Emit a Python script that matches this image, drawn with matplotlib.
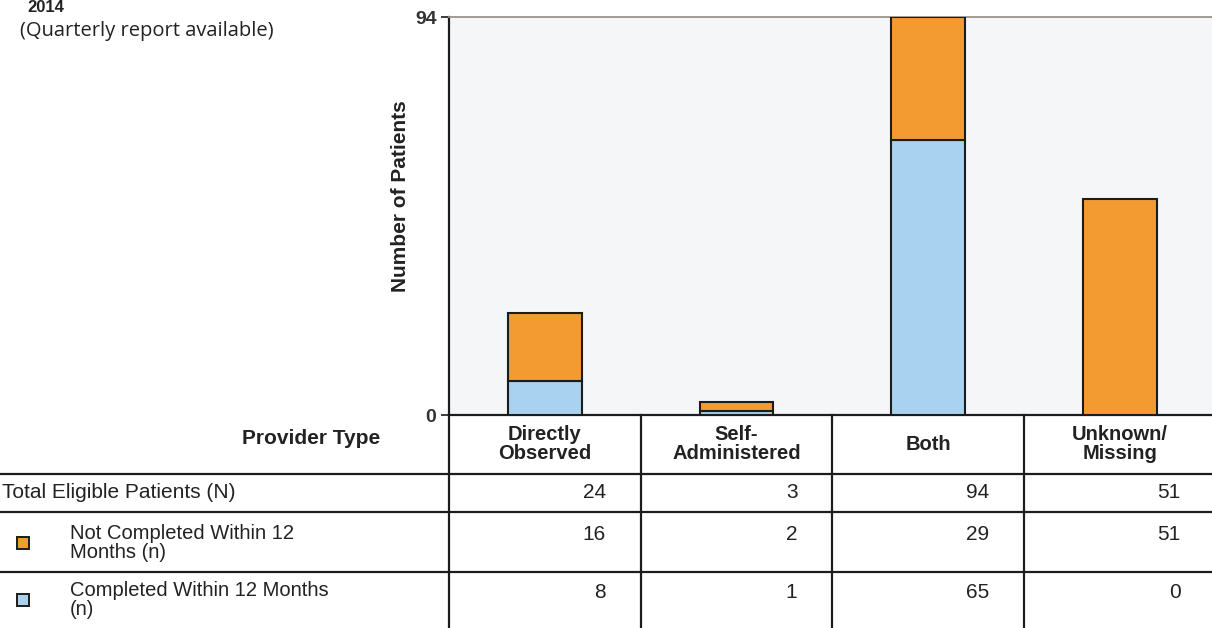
import matplotlib.pyplot as plt
from matplotlib.patches import Rectangle

categories = ["Directly\nObserved", "Self-\nAdministered", "Both", "Unknown/\nMissing"]
not_completed = [16, 2, 29, 51]
completed = [8, 1, 65, 0]
total = [24, 3, 94, 51]
row_labels = [
    "Total Eligible Patients (N)",
    "Not Completed Within 12\nMonths (n)",
    "Completed Within 12 Months\n(n)",
]
y_ticks = [0, 94]

ORANGE = "#f39b30"
BLUE = "#a9d1f0"
DARK = "#1c1c1c"
W, H = 1212, 628

plt.rcParams["font.family"] = ["Liberation Sans", "DejaVu Sans"]
fig = plt.figure(figsize=(W / 100, H / 100), dpi=100)

# layout in pixels
x0 = 449
col_w = 191.7
ax_top = 17
ax_bot = 415
row_lines = [474, 512, 572]
row_mid = [492, 543, 600]


def fx(px):
    return px / W


def fy(py):
    return 1 - py / H


ax = fig.add_axes([fx(x0), fy(ax_bot), 4 * col_w / W, (ax_bot - ax_top) / H])
ax.set_facecolor("#f5f6f7")
xs = list(range(len(categories)))
ax.bar(xs, completed, width=0.385, color=BLUE, edgecolor=DARK, linewidth=1.5, zorder=3)
ax.bar(xs, not_completed, bottom=completed, width=0.385, color=ORANGE,
       edgecolor=DARK, linewidth=1.5, zorder=3)
ax.set_xlim(-0.5, 3.5)
ax.set_ylim(0, 94)
ax.set_xticks([])
ax.set_yticks(y_ticks)
ax.tick_params(axis="y", length=6, width=1.2, color=DARK, labelsize=14, pad=3)
for lbl in ax.get_yticklabels():
    lbl.set_fontweight("bold")
    lbl.set_color("#333333")
ax.spines["left"].set_color(DARK)
ax.spines["left"].set_linewidth(1.6)
ax.spines["bottom"].set_color(DARK)
ax.spines["bottom"].set_linewidth(1.6)
ax.spines["top"].set_color("#9b938c")
ax.spines["top"].set_linewidth(1.3)
ax.spines["right"].set_visible(False)

fig.text(fx(401), fy(196), "Number of Patients", rotation=90, ha="center",
         va="center", fontsize=15, fontweight="bold", color="#222222")

# table drawn in pixel coordinates
tab = fig.add_axes([0, 0, 1, 1])
tab.set_xlim(0, W)
tab.set_ylim(H, 0)
tab.axis("off")
tab.patch.set_alpha(0)

for y in row_lines:
    tab.plot([0, W], [y, y], color=DARK, lw=1.6)
for i in range(4):
    xv = x0 + i * col_w
    tab.plot([xv, xv], [ax_bot, H], color=DARK, lw=1.6)

tab.text(380, 438, "Provider Type", ha="right", va="center", fontsize=15,
         fontweight="bold", color="#222222")
for i, cat in enumerate(categories):
    tab.text(x0 + (i + 0.5) * col_w, 444, cat, ha="center", va="center",
             fontsize=14.5, fontweight="bold", color="#222222", linespacing=1.0)

table_rows = [total, not_completed, completed]
row_colors = [None, ORANGE, BLUE]
for r, (label, vals, c) in enumerate(zip(row_labels, table_rows, row_colors)):
    if c is None:
        tab.text(2, row_mid[r], label, ha="left", va="center", fontsize=15,
                 color="#222222")
        vy = row_mid[r]
    else:
        tab.text(70, row_mid[r], label, ha="left", va="center", fontsize=14.5,
                 color="#222222", linespacing=0.95)
        tab.add_patch(Rectangle((17, row_mid[r] - 6), 12, 12, facecolor=c,
                                edgecolor=DARK, lw=1.4))
        vy = row_mid[r] - 8
    for i, v in enumerate(vals):
        tab.text(x0 + (i + 1) * col_w - 35, vy, str(v), ha="right", va="center",
                 fontsize=15, color="#222222")

fig.text(fx(27), fy(0), "2014", ha="left", va="top", fontsize=12,
         fontweight="bold", color="#222222")
fig.text(fx(20), fy(31), "(Quarterly report available)", ha="left", va="center",
         fontsize=14.5, family=["Open Sans", "DejaVu Sans"], color="#222222")

fig.savefig("out.png", dpi=100, facecolor="white")
